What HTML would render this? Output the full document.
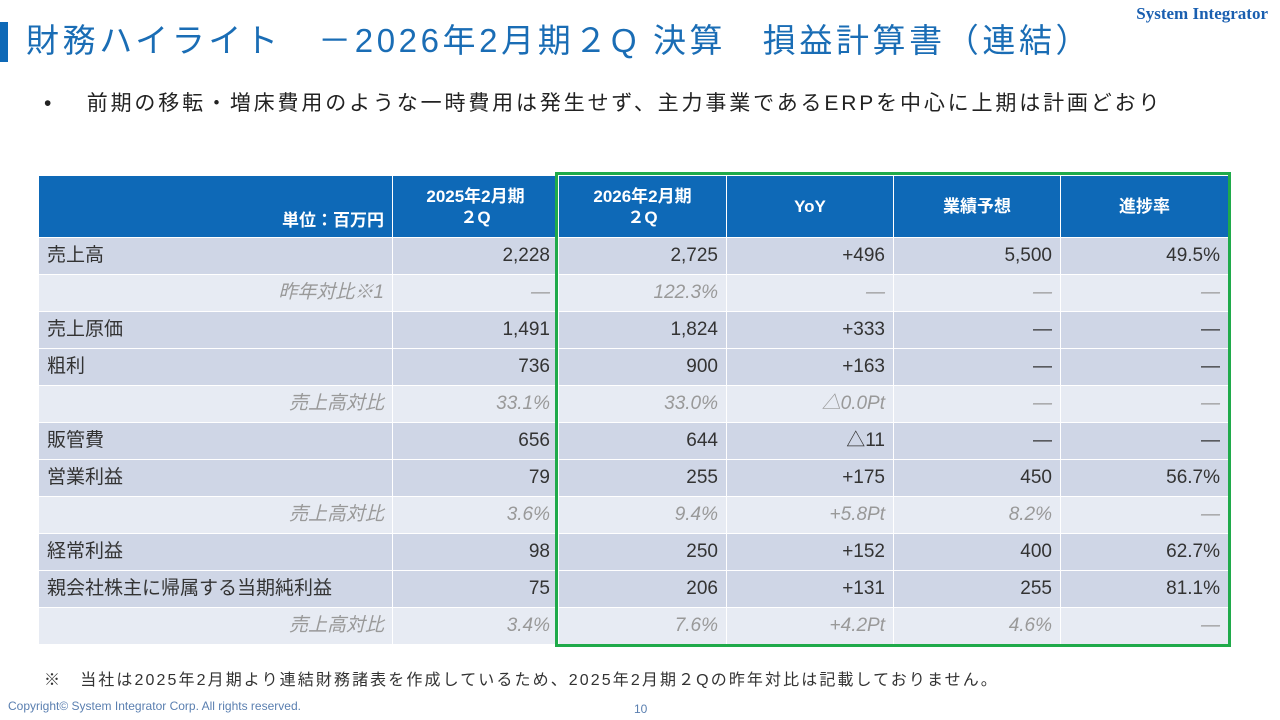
<!DOCTYPE html>
<html><head><meta charset="utf-8">
<style>
body{margin:0;width:1280px;height:720px;position:relative;background:#fff;overflow:hidden;font-family:"Liberation Sans","Noto Sans CJK JP",sans-serif;}
.abs{position:absolute;}
table{border-collapse:collapse;table-layout:fixed;position:absolute;left:38px;top:175px;}
td,th{padding:0 8px;border:1px solid #fff;font-size:19px;line-height:20px;color:#333;white-space:nowrap;vertical-align:middle;overflow:hidden;}
th{background:#0e69b7;color:#fff;font-weight:bold;height:55px;font-size:17px;line-height:21px;}
tr.m td{background:#cfd6e6;height:36px;}
tr.s td{background:#e7ebf3;height:36px;color:#999;font-style:italic;}
td.n{text-align:right;}
tr.s td.l{text-align:right;}
</style></head><body>
<div class="abs" style="left:0;top:22px;width:8px;height:40px;background:#0e69b7"></div>
<div class="abs" style="left:26px;top:21px;font-size:33px;line-height:40px;color:#1a6db5;white-space:nowrap;letter-spacing:3.6px">財務ハイライト　－2026年2月期２Q 決算　損益計算書（連結）</div>
<div class="abs" style="right:12px;top:4px;font-family:'Liberation Serif',serif;font-weight:bold;font-size:17px;color:#1a5fb0">System Integrator</div>
<div class="abs" style="left:44px;top:87px;font-size:21px;color:#222;white-space:nowrap;letter-spacing:2.85px">•　 前期の移転・増床費用のような一時費用は発生せず、主力事業であるERPを中心に上期は計画どおり</div>
<table>
<colgroup><col style="width:354px"><col style="width:166px"><col style="width:168px"><col style="width:167px"><col style="width:167px"><col style="width:168px"></colgroup>
<tr><th style="text-align:right;vertical-align:bottom;padding-bottom:6px">単位：百万円</th><th>2025年2月期<br>２Q</th><th>2026年2月期<br>２Q</th><th>YoY</th><th>業績予想</th><th>進捗率</th></tr>
<tr class="m"><td>売上高</td><td class="n">2,228</td><td class="n">2,725</td><td class="n">+496</td><td class="n">5,500</td><td class="n">49.5%</td></tr>
<tr class="s"><td class="l">昨年対比※1</td><td class="n">―</td><td class="n">122.3%</td><td class="n">―</td><td class="n">―</td><td class="n">―</td></tr>
<tr class="m"><td>売上原価</td><td class="n">1,491</td><td class="n">1,824</td><td class="n">+333</td><td class="n">―</td><td class="n">―</td></tr>
<tr class="m"><td>粗利</td><td class="n">736</td><td class="n">900</td><td class="n">+163</td><td class="n">―</td><td class="n">―</td></tr>
<tr class="s"><td class="l">売上高対比</td><td class="n">33.1%</td><td class="n">33.0%</td><td class="n">△0.0Pt</td><td class="n">―</td><td class="n">―</td></tr>
<tr class="m"><td>販管費</td><td class="n">656</td><td class="n">644</td><td class="n">△11</td><td class="n">―</td><td class="n">―</td></tr>
<tr class="m"><td>営業利益</td><td class="n">79</td><td class="n">255</td><td class="n">+175</td><td class="n">450</td><td class="n">56.7%</td></tr>
<tr class="s"><td class="l">売上高対比</td><td class="n">3.6%</td><td class="n">9.4%</td><td class="n">+5.8Pt</td><td class="n">8.2%</td><td class="n">―</td></tr>
<tr class="m"><td>経常利益</td><td class="n">98</td><td class="n">250</td><td class="n">+152</td><td class="n">400</td><td class="n">62.7%</td></tr>
<tr class="m"><td>親会社株主に帰属する当期純利益</td><td class="n">75</td><td class="n">206</td><td class="n">+131</td><td class="n">255</td><td class="n">81.1%</td></tr>
<tr class="s"><td class="l">売上高対比</td><td class="n">3.4%</td><td class="n">7.6%</td><td class="n">+4.2Pt</td><td class="n">4.6%</td><td class="n">―</td></tr>
</table>
<div class="abs" style="left:555px;top:172px;width:670px;height:469px;border:3px solid #1faa4a"></div>
<div class="abs" style="left:44px;top:666px;font-size:16px;color:#333;white-space:nowrap;letter-spacing:2.1px">※　当社は2025年2月期より連結財務諸表を作成しているため、2025年2月期２Qの昨年対比は記載しておりません。</div>
<div class="abs" style="left:8px;top:699px;font-size:12px;color:#5a7fb0">Copyright© System Integrator Corp. All rights reserved.</div>
<div class="abs" style="left:634px;top:702px;font-size:12px;color:#5a7fb0">10</div>
</body></html>
